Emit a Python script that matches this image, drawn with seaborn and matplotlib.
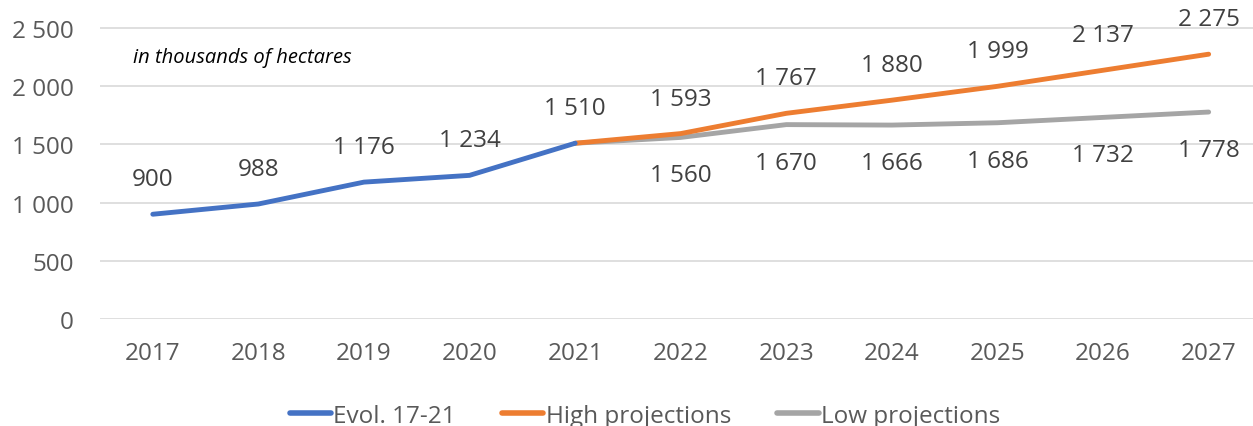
import matplotlib
matplotlib.use("Agg")
import matplotlib.pyplot as plt
import seaborn as sns
import pandas as pd

sns.set_theme(style="white")
plt.rcParams['font.family'] = ['Open Sans', 'DejaVu Sans']

# data (thousands of hectares)
years_hist = [2017, 2018, 2019, 2020, 2021]
evol = [900, 988, 1176, 1234, 1510]
years_proj = [2021, 2022, 2023, 2024, 2025, 2026, 2027]
high = [1510, 1593, 1767, 1880, 1999, 2137, 2275]
low = [1510, 1560, 1670, 1666, 1686, 1732, 1778]
year_ticks = list(range(2017, 2028))
y_ticks = [0, 500, 1000, 1500, 2000, 2500]

blue, orange, grey = '#4472C4', '#ED7D31', '#A5A5A5'
txt = '#404040'
fs = 17.5

def fmt(v):
    return f"{v:,}".replace(",", " ")

fig = plt.figure(figsize=(12.53, 4.27), dpi=100)
ax = fig.add_axes([100 / 1253, 107 / 427, 1153 / 1253, 320 / 427])

sns.lineplot(x=years_proj, y=low, ax=ax, color=grey, lw=3.5, label='Low projections',
             solid_capstyle='round', zorder=3)
sns.lineplot(x=years_proj, y=high, ax=ax, color=orange, lw=3.5, label='High projections',
             solid_capstyle='round', zorder=4)
sns.lineplot(x=years_hist, y=evol, ax=ax, color=blue, lw=3.5, label='Evol. 17-21',
             solid_capstyle='round', zorder=5)

# data labels
for x, v in zip(years_hist, evol):
    ax.annotate(fmt(v), (x, v), xytext=(0, 35), textcoords='offset pixels',
                ha='center', va='center', fontsize=fs, color=txt)
for x, v in zip(years_proj[1:], high[1:]):
    ax.annotate(fmt(v), (x, v), xytext=(0, 35), textcoords='offset pixels',
                ha='center', va='center', fontsize=fs, color=txt)
for x, v in zip(years_proj[1:], low[1:]):
    ax.annotate(fmt(v), (x, v), xytext=(0, -38), textcoords='offset pixels',
                ha='center', va='center', fontsize=fs, color=txt)

ax.text(2016.81, 2250, 'in thousands of hectares', style='italic', fontsize=14.5,
        color='black', va='center')

ax.set_xlim(2016.5, 2027.42)
ax.set_ylim(0, 2500 + 29 / (291 / 2500))
ax.set_xticks(year_ticks)
ax.set_xticklabels([str(y) for y in year_ticks])
ax.set_yticks(y_ticks)
ax.set_yticklabels([fmt(v) for v in y_ticks])
ax.tick_params(axis='both', labelsize=fs, labelcolor='#595959', length=0)
ax.tick_params(axis='x', pad=16)
ax.tick_params(axis='y', pad=19)
ax.grid(axis='y', color='#D9D9D9', lw=1.2)
ax.grid(axis='x', visible=False)
for s in ax.spines.values():
    s.set_visible(False)
ax.set_xlabel('')
ax.set_ylabel('')

handles, labels = ax.get_legend_handles_labels()
order = [labels.index(l) for l in ['Evol. 17-21', 'High projections', 'Low projections']]
ax.get_legend().remove()
leg = fig.legend([handles[i] for i in order], [labels[i] for i in order],
                 loc='lower center', bbox_to_anchor=(645 / 1253, -0.055), ncol=3,
                 frameon=False, fontsize=fs, handlelength=1.7, handletextpad=0.1,
                 columnspacing=1.9)
for t in leg.get_texts():
    t.set_color('#595959')
for h in leg.get_lines():
    h.set_linewidth(4)

fig.savefig('out.png', dpi=100)
